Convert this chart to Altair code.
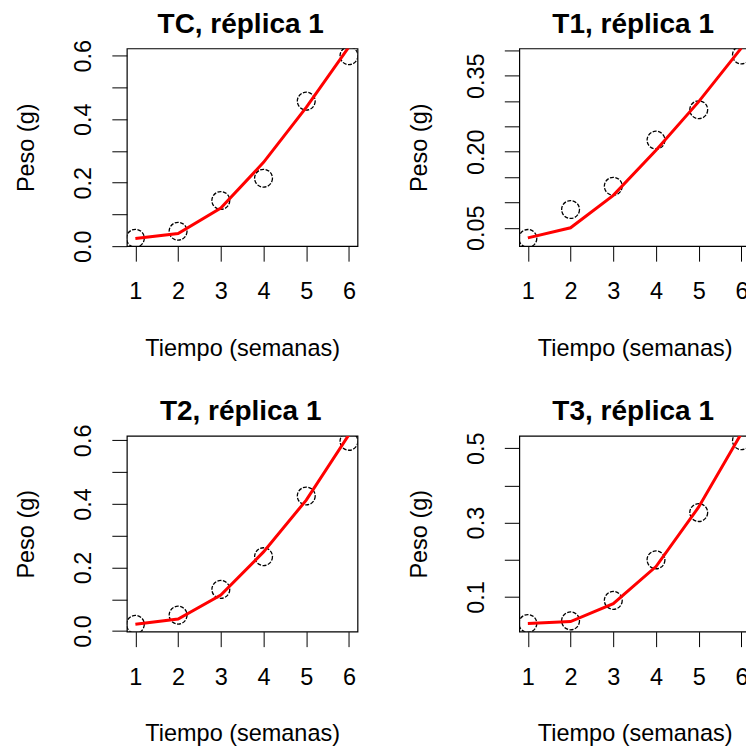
import altair as alt
import pandas as pd

weeks = [1, 2, 3, 4, 5, 6]

tc_obs = [0.025, 0.047, 0.144, 0.214, 0.457, 0.600]
tc_fit = [0.024, 0.040, 0.120, 0.264, 0.437, 0.628]
t1_obs = [0.029, 0.086, 0.132, 0.223, 0.283, 0.391]
t1_fit = [0.030, 0.050, 0.114, 0.203, 0.299, 0.405]
t2_obs = [0.021, 0.050, 0.131, 0.234, 0.425, 0.597]
t2_fit = [0.021, 0.038, 0.113, 0.249, 0.412, 0.618]
t3_obs = [0.029, 0.036, 0.091, 0.200, 0.327, 0.520]
t3_fit = [0.029, 0.034, 0.082, 0.182, 0.342, 0.540]

titles = ["TC, réplica 1", "T1, réplica 1", "T2, réplica 1", "T3, réplica 1"]

tc_ticks = [0.0, 0.1, 0.2, 0.3, 0.4, 0.5, 0.6]
tc_labels = ["0.0", "0.2", "0.4", "0.6"]
t1_ticks = [0.05, 0.10, 0.15, 0.20, 0.25, 0.30, 0.35, 0.40]
t1_labels = ["0.05", "0.20", "0.35"]
t3_ticks = [0.1, 0.2, 0.3, 0.4, 0.5]
t3_labels = ["0.1", "0.3", "0.5"]

FONT = "Liberation Sans"
FS = 23.5


def panel(title, obs, fit, ydom, yticks, ylabels, yfmt, width, height):
    df = pd.DataFrame({"Semana": weeks, "Obs": obs, "Fit": fit})
    xscale = alt.Scale(domain=[0.8, 6.2], nice=False, zero=False)
    yscale = alt.Scale(domain=ydom, nice=False, zero=False)
    xaxis = alt.Axis(
        values=weeks, format="d", title="Tiempo (semanas)", grid=False, domain=False,
        tickSize=15, tickColor="black", tickWidth=1,
        labelFont=FONT, labelFontSize=FS, labelColor="black",
        labelBaseline="alphabetic", labelAlign="center", labelPadding=37.5,
        titleFont=FONT, titleFontSize=FS, titleFontWeight="normal", titleColor="black",
        titleBaseline="alphabetic", titleAlign="center", titleX=width / 2, titleY=109,
    )
    lab_list = "[" + ",".join("'" + s + "'" for s in ylabels) + "]"
    yaxis = alt.Axis(
        values=yticks, format=yfmt, title="Peso (g)", grid=False, domain=False,
        labelExpr="indexof(" + lab_list + ", datum.label) >= 0 ? datum.label : ''",
        tickSize=15, tickColor="black", tickWidth=1,
        labelFont=FONT, labelFontSize=FS, labelColor="black", labelAngle=270,
        labelBaseline="alphabetic", labelAlign="center", labelPadding=21,
        labelOverlap=False,
        titleFont=FONT, titleFontSize=FS, titleFontWeight="normal", titleColor="black",
        titleAngle=270, titleBaseline="alphabetic", titleAlign="center",
        titleX=-93, titleY=height / 2,
    )
    pts = alt.Chart(df).mark_point(
        shape="circle", filled=False, color="black", size=320, strokeWidth=1.3,
        strokeDash=[4, 1.5], clip=True, opacity=1,
    ).encode(
        x=alt.X("Semana:Q", scale=xscale, axis=xaxis),
        y=alt.Y("Obs:Q", scale=yscale, axis=yaxis),
    )
    line = alt.Chart(df).mark_line(color="red", strokeWidth=3, clip=True).encode(
        x=alt.X("Semana:Q", scale=xscale, axis=xaxis),
        y=alt.Y("Fit:Q", scale=yscale, axis=yaxis),
    )
    head = alt.Chart(pd.DataFrame({"titulo": [title]})).mark_text(
        font=FONT, fontSize=28, fontWeight="bold", color="black",
        align="center", baseline="alphabetic",
    ).encode(
        text="titulo:N",
        x=alt.value(width / 2 - 1.5),
        y=alt.value(-15.7),
    )
    return alt.layer(pts, line, head).properties(width=width, height=height)


p_tc = panel(titles[0], tc_obs, tc_fit, [0.0, 0.623], tc_ticks, tc_labels, ".1f", 231, 198)
p_t1 = panel(titles[1], t1_obs, t1_fit, [0.0137, 0.404], t1_ticks, t1_labels, ".2f", 231, 198)
p_t2 = panel(titles[2], t2_obs, t2_fit, [-0.002, 0.614], tc_ticks, tc_labels, ".1f", 231, 196)
p_t3 = panel(titles[3], t3_obs, t3_fit, [0.007, 0.533], t3_ticks, t3_labels, ".1f", 231, 196)

row1 = alt.hconcat(p_tc, p_t1, spacing=162, bounds="flush")
row2 = alt.hconcat(p_t2, p_t3, spacing=162, bounds="flush")

chart = alt.vconcat(row1, row2, spacing=388, bounds="flush").properties(
    padding={"left": 14, "top": 9, "right": -5, "bottom": 0},
    background="white",
).configure_view(stroke="black", strokeWidth=1.2)

chart.save("out.html", embed_options={"renderer": "svg", "actions": False})
